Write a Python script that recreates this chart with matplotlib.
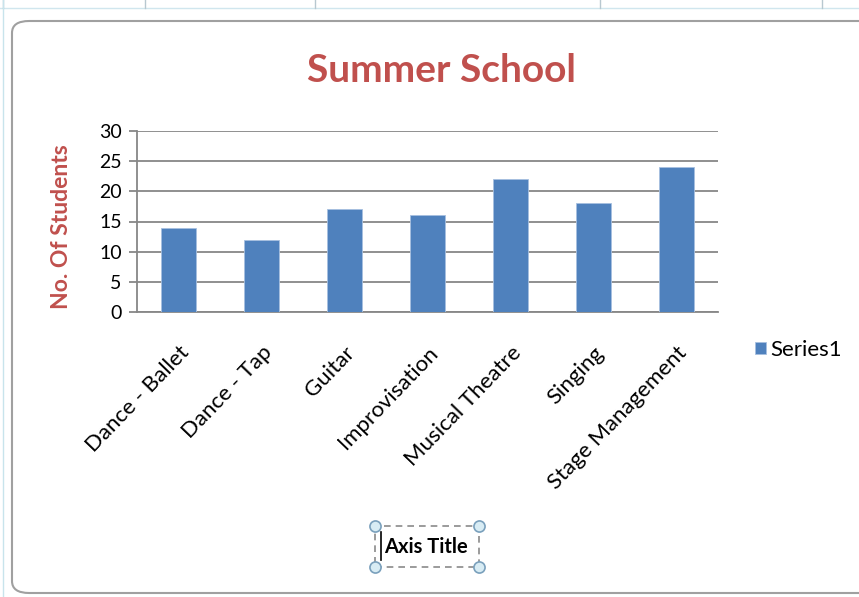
import matplotlib.pyplot as plt
from matplotlib.patches import FancyBboxPatch, Rectangle
import numpy as np

categories = ["Dance - Ballet", "Dance - Tap", "Guitar", "Improvisation",
              "Musical Theatre", "Singing", "Stage Management"]
students = [14, 12, 17, 16, 22, 18, 24]
yticks = [0, 5, 10, 15, 20, 25, 30]

plt.rcParams['font.family'] = ['Lato', 'DejaVu Sans']

W, H = 859, 597
fig = plt.figure(figsize=(W / 100, H / 100), dpi=100)
fig.patch.set_facecolor('white')

# spreadsheet cells behind the chart object
fig.add_artist(plt.Line2D([0, 1], [1 - 8 / H, 1 - 8 / H], color='#d0e6ee', lw=1))
for xx in [3, 145, 315, 600, 822]:
    fig.add_artist(plt.Line2D([xx / W, xx / W], [1 - 8 / H, 1], color='#b8c8d0', lw=1))
fig.add_artist(plt.Line2D([3 / W, 3 / W], [0, 1], color='#c8e4ec', lw=1))

# chart area frame
frame = FancyBboxPatch((12 / W, 4 / H), 870 / W, 572 / H,
                       boxstyle="round,pad=0,rounding_size=0.02",
                       transform=fig.transFigure, facecolor='white',
                       edgecolor='#a0a0a0', lw=1.5, zorder=0)
fig.add_artist(frame)

ax = fig.add_axes([137 / W, 1 - 312 / H, (718 - 137) / W, (312 - 131) / H])
ax.set_facecolor('none')
x = np.arange(len(categories))
ax.bar(x, students, width=0.41, color='#4F81BD', edgecolor='#a7c0e0',
       linewidth=0.6, label='Series1', zorder=3)

ax.set_xlim(-0.5, len(categories) - 0.5)
ax.set_ylim(0, 30)
ax.set_yticks(yticks)
ax.grid(axis='y', color='#878787', lw=1.3, zorder=0)
ax.tick_params(axis='y', length=6, width=1.3, color='#878787', labelsize=14, pad=5)
ax.tick_params(axis='x', length=0, pad=22)
ax.set_xticks(x)
ax.set_xticklabels(categories, rotation=46, ha='right', rotation_mode='anchor',
                   fontsize=16)
for s in ['top', 'right']:
    ax.spines[s].set_visible(False)
for s in ['left', 'bottom']:
    ax.spines[s].set_color('#878787')
    ax.spines[s].set_linewidth(1.3)

fig.text(62 / W, 1 - 227 / H, 'No. Of Students', color='#C0504D',
         fontweight='bold', fontsize=16.5, rotation=90, ha='center', va='center')

fig.text(441 / W, 1 - 70 / H, 'Summer School', color='#C0504D',
         fontweight='bold', fontsize=28, ha='center', va='center')

fig.legend(loc='center left', bbox_to_anchor=(755 / W, 1 - 350 / H), frameon=False,
           fontsize=16, handlelength=0.5, handleheight=0.5, handletextpad=0.2,
           borderaxespad=0, borderpad=0)

# selected axis title box
x0, y0, x1, y1 = 375 / W, 1 - 567 / H, 479 / W, 1 - 526 / H
fig.add_artist(Rectangle((x0, y0), x1 - x0, y1 - y0, transform=fig.transFigure,
                         fill=False, edgecolor='#8a8a8a', lw=1.2, ls=(0, (4, 3))))
for cx, cy in [(x0, y0), (x0, y1), (x1, y0), (x1, y1)]:
    fig.add_artist(plt.Line2D([cx], [cy], marker='o', ms=8, mfc='#d8ecf4',
                              mec='#7aa0bc', mew=1.2, transform=fig.transFigure))
fig.text(426 / W, 1 - 547 / H, 'Axis Title', fontweight='bold',
         fontsize=14.5, ha='center', va='center')
fig.add_artist(plt.Line2D([381 / W, 381 / W], [1 - 560 / H, 1 - 532 / H],
                          color='black', lw=1.2, transform=fig.transFigure))

fig.savefig('out.png', dpi=100)
